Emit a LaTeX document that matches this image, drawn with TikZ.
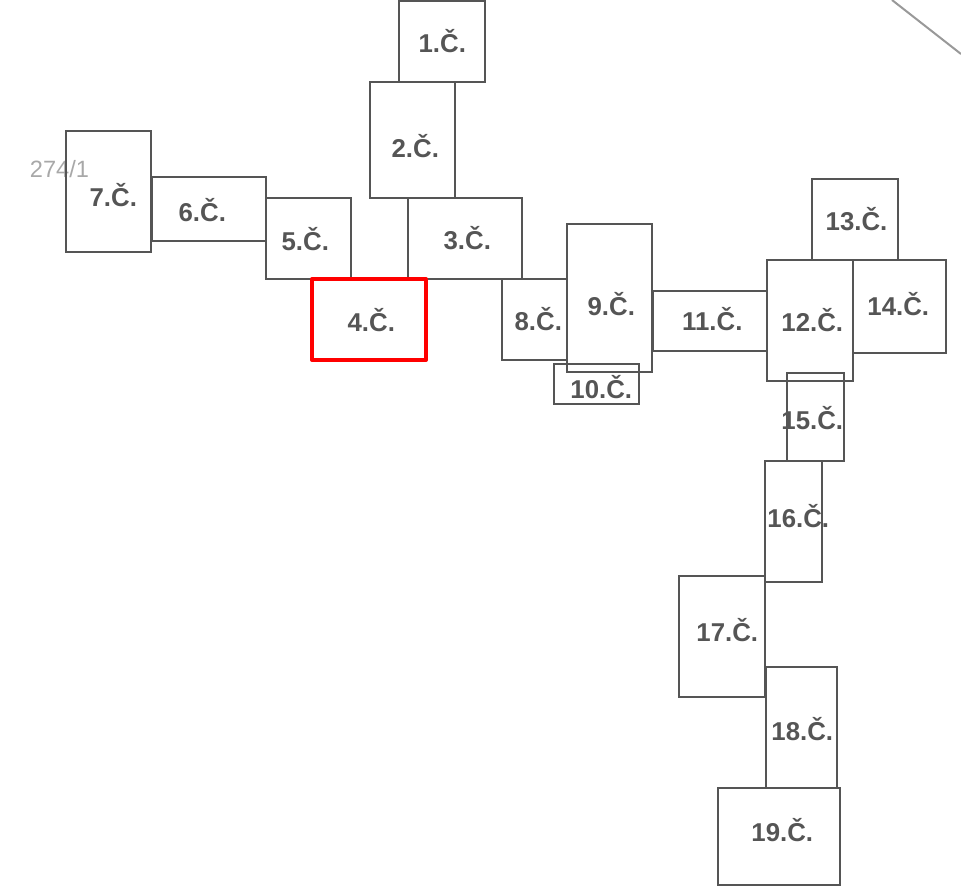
\documentclass[tikz,border=0pt]{standalone}
\usepackage{fontspec}
\setmainfont{Liberation Sans}
\definecolor{boxgrey}{HTML}{555555}
\definecolor{thingrey}{HTML}{999999}
\tikzset{
  room/.style={draw=boxgrey,line width=2.05pt,inner sep=0pt,outer sep=0pt,anchor=north west},
  redroom/.style={room,draw=red,line width=4pt,line join=round},
  tag/.style={text=boxgrey,font=\bfseries\fontsize{25.8}{26}\selectfont,inner sep=0pt},
  parcel/.style={text=thingrey!85,font=\fontsize{23.6}{24}\selectfont,inner sep=0pt},
  border/.style={draw=thingrey,line width=2pt}
}
\begin{document}
\begin{tikzpicture}[x=1pt,y=-1pt]
\useasboundingbox (0,0) rectangle (961,887);
\coordinate (b1) at (892,0);
\coordinate (b2) at (961,54);
\draw[border] (b1) -- (b2);
\node[parcel] (p) at (59.5,169) {274/1};
\node[room,minimum width=86pt,minimum height=81pt] (r1) at (399,1) {};
\node[room,minimum width=85pt,minimum height=116pt] (r2) at (370,82) {};
\node[room,minimum width=114pt,minimum height=81pt] (r3) at (408,198) {};
\node[room,minimum width=85pt,minimum height=81pt] (r5) at (266,198) {};
\node[room,minimum width=114pt,minimum height=64pt] (r6) at (152,177) {};
\node[room,minimum width=85pt,minimum height=121pt] (r7) at (66,131) {};
\node[room,minimum width=65pt,minimum height=81pt] (r8) at (502,279) {};
\node[room,minimum width=85pt,minimum height=148pt] (r9) at (567,224) {};
\node[room,minimum width=85pt,minimum height=40pt] (r10) at (554,364) {};
\node[room,minimum width=114pt,minimum height=60pt] (r11) at (653,291) {};
\node[room,minimum width=86pt,minimum height=121pt] (r12) at (767,260) {};
\node[room,minimum width=86pt,minimum height=81pt] (r13) at (812,179) {};
\node[room,minimum width=93pt,minimum height=93pt] (r14) at (853,260) {};
\node[room,minimum width=57pt,minimum height=88pt] (r15) at (787,373) {};
\node[room,minimum width=57pt,minimum height=121pt] (r16) at (765,461) {};
\node[room,minimum width=86pt,minimum height=121pt] (r17) at (679,576) {};
\node[room,minimum width=71pt,minimum height=121pt] (r18) at (766,667) {};
\node[room,minimum width=122pt,minimum height=97pt] (r19) at (718,788) {};
\node[redroom,minimum width=114pt,minimum height=81pt] (r4) at (312,279) {};
\node[tag] (t1) at (442.3,41.3) {1.Č.};
\node[tag] (t2) at (415.3,146.3) {2.Č.};
\node[tag] (t3) at (467.3,238.3) {3.Č.};
\node[tag] (t4) at (371.3,320.3) {4.Č.};
\node[tag] (t5) at (305.3,239.3) {5.Č.};
\node[tag] (t6) at (202.3,210.3) {6.Č.};
\node[tag] (t7) at (113.3,195.3) {7.Č.};
\node[tag] (t8) at (538.3,319.3) {8.Č.};
\node[tag] (t9) at (611.3,304.3) {9.Č.};
\node[tag] (t10) at (601.3,387.3) {10.Č.};
\node[tag] (t11) at (712.3,319.3) {11.Č.};
\node[tag] (t12) at (812.3,320.3) {12.Č.};
\node[tag] (t13) at (856.5,219.3) {13.Č.};
\node[tag] (t14) at (898.3,304.3) {14.Č.};
\node[tag] (t15) at (812.3,418.3) {15.Č.};
\node[tag] (t16) at (798.3,516.3) {16.Č.};
\node[tag] (t17) at (727.3,630.3) {17.Č.};
\node[tag] (t18) at (802.3,729.3) {18.Č.};
\node[tag] (t19) at (782.3,830.3) {19.Č.};
\end{tikzpicture}
\end{document}
